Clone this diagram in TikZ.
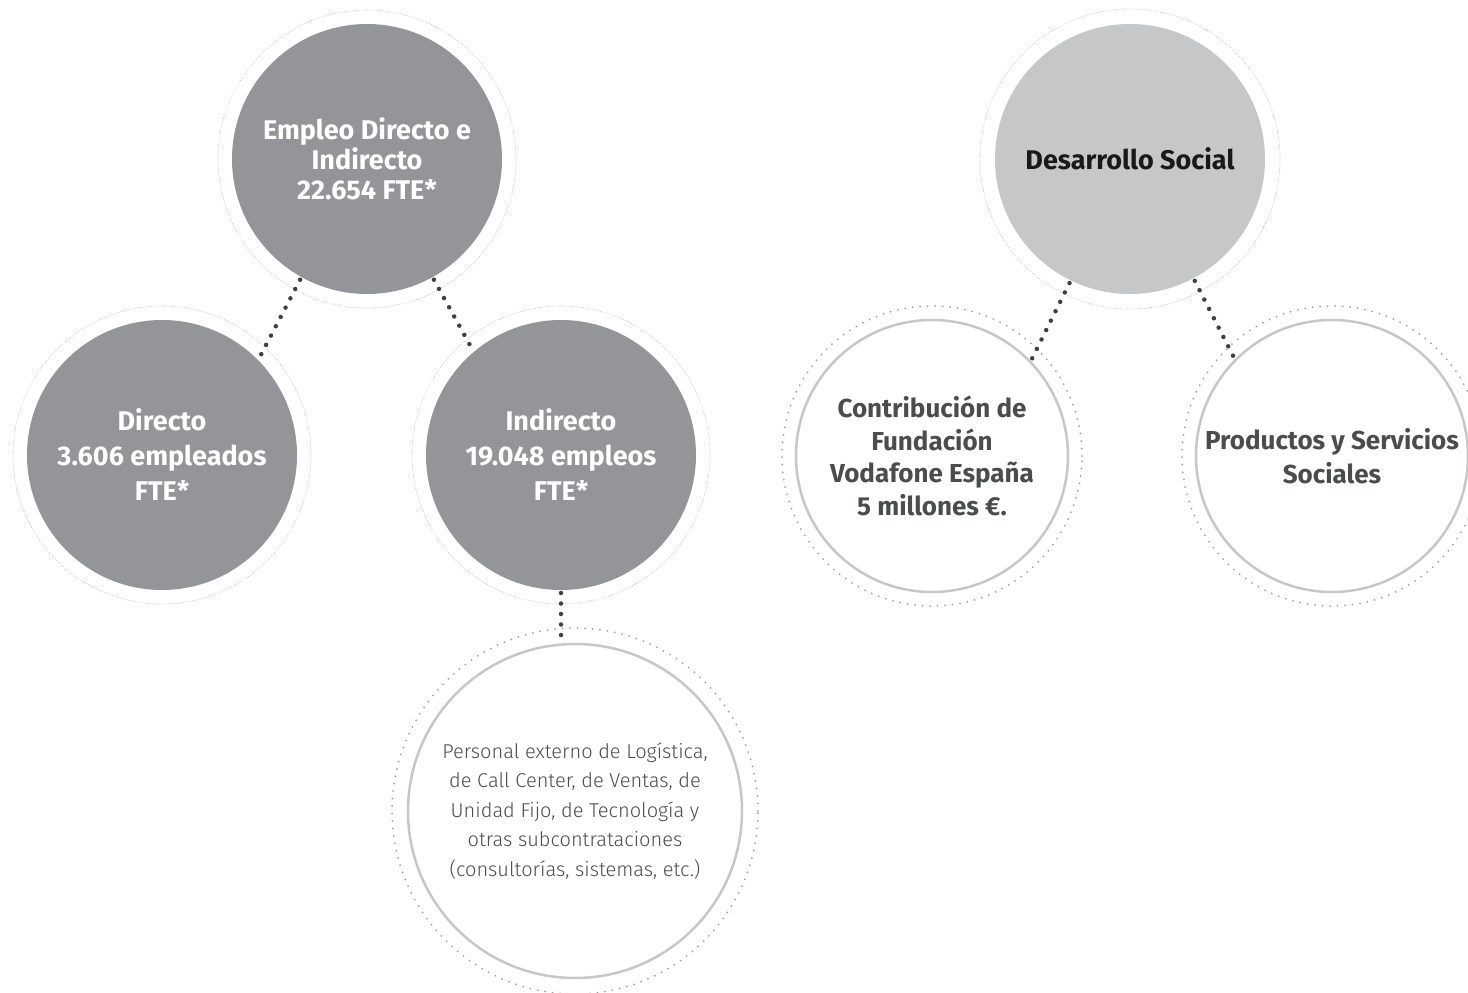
\documentclass[tikz,border=0pt]{standalone}
\usepackage{fontspec}
\setmainfont{Fira Sans}
\newfontfamily\lightfont{Fira Sans Light}
\definecolor{vfdark}{RGB}{147,149,152}
\definecolor{vflight}{RGB}{198,199,200}
\definecolor{vftext}{RGB}{74,77,78}
\definecolor{vfdots}{RGB}{62,64,68}

\begin{document}
\begin{tikzpicture}[x=1pt, y=-1pt,
        big/.style={circle, fill=vfdark, text=white, minimum size=270pt, inner sep=0pt, outer sep=3pt,
            align=center, font=\bfseries\fontsize{27}{35}\selectfont},
        soft/.style={big, fill=vflight, text=black!90},
        plain/.style={circle, draw=vflight, line width=2.5pt, fill=white, minimum size=272pt, inner sep=0pt,
            outer sep=2pt, align=center, text=vftext, font=\bfseries\fontsize{26}{34}\selectfont},
        ring/.style={draw=gray!55, line width=0.7pt, dash pattern=on 0.7pt off 1.5pt},
        dotring/.style={draw=gray!75, line width=2pt, line cap=round, dash pattern=on 0pt off 7.5pt},
        link/.style={draw=vfdots, line width=4.5pt, line cap=round, dash pattern=on 0pt off 10.5pt}]
        \useasboundingbox (0,0) rectangle (1468,993);

        \node[big, font=\bfseries\fontsize{27}{30}\selectfont] (emp) at (367,159) {Empleo Directo e\\Indirecto\\22.654 FTE*};
        \node[big] (dir) at (162,455) {Directo\\3.606 empleados\\FTE*};
        \node[big] (ind) [right of=dir, node distance=399pt] {Indirecto\\19.048 empleos\\FTE*};
        \node[plain, minimum size=334pt, font=\lightfont\fontsize{20}{29.6}\selectfont] (per) at (575,811)
            {Personal externo de Logística,\\de Call Center, de Ventas, de\\Unidad Fijo, de Tecnología y\\otras subcontrataciones\\(consultorías, sistemas, etc.)};

        \node[soft] (soc) at (1130,159) {Desarrollo Social};
        \node[plain, font=\bfseries\fontsize{26}{32.5}\selectfont] (con) at (932,456) {Contribución de\\Fundación\\Vodafone España\\5 millones €.};
        \node[plain] (pro) [right of=con, node distance=400pt] {Productos y Servicios\\Sociales};

        \draw[ring] (emp.center) circle[radius=149pt];
        \draw[ring] (dir.center) circle[radius=149pt];
        \draw[ring] (ind.center) circle[radius=149pt];
        \draw[ring] (soc.center) circle[radius=150pt];
        \draw[dotring] (con.center) circle[radius=150pt];
        \draw[dotring] (pro.center) circle[radius=150pt];
        \draw[dotring] (per.center) circle[radius=183pt];

        \draw[link] (emp.241) -- (dir.45);
        \draw[link] (emp.299) -- (ind.130);
        \draw[link] (ind.south) -- (ind.south |- per.north);
        \draw[link] (soc.244) -- (con.44);
        \draw[link] (soc.298) -- (pro.135);
    \end{tikzpicture}
\end{document}
